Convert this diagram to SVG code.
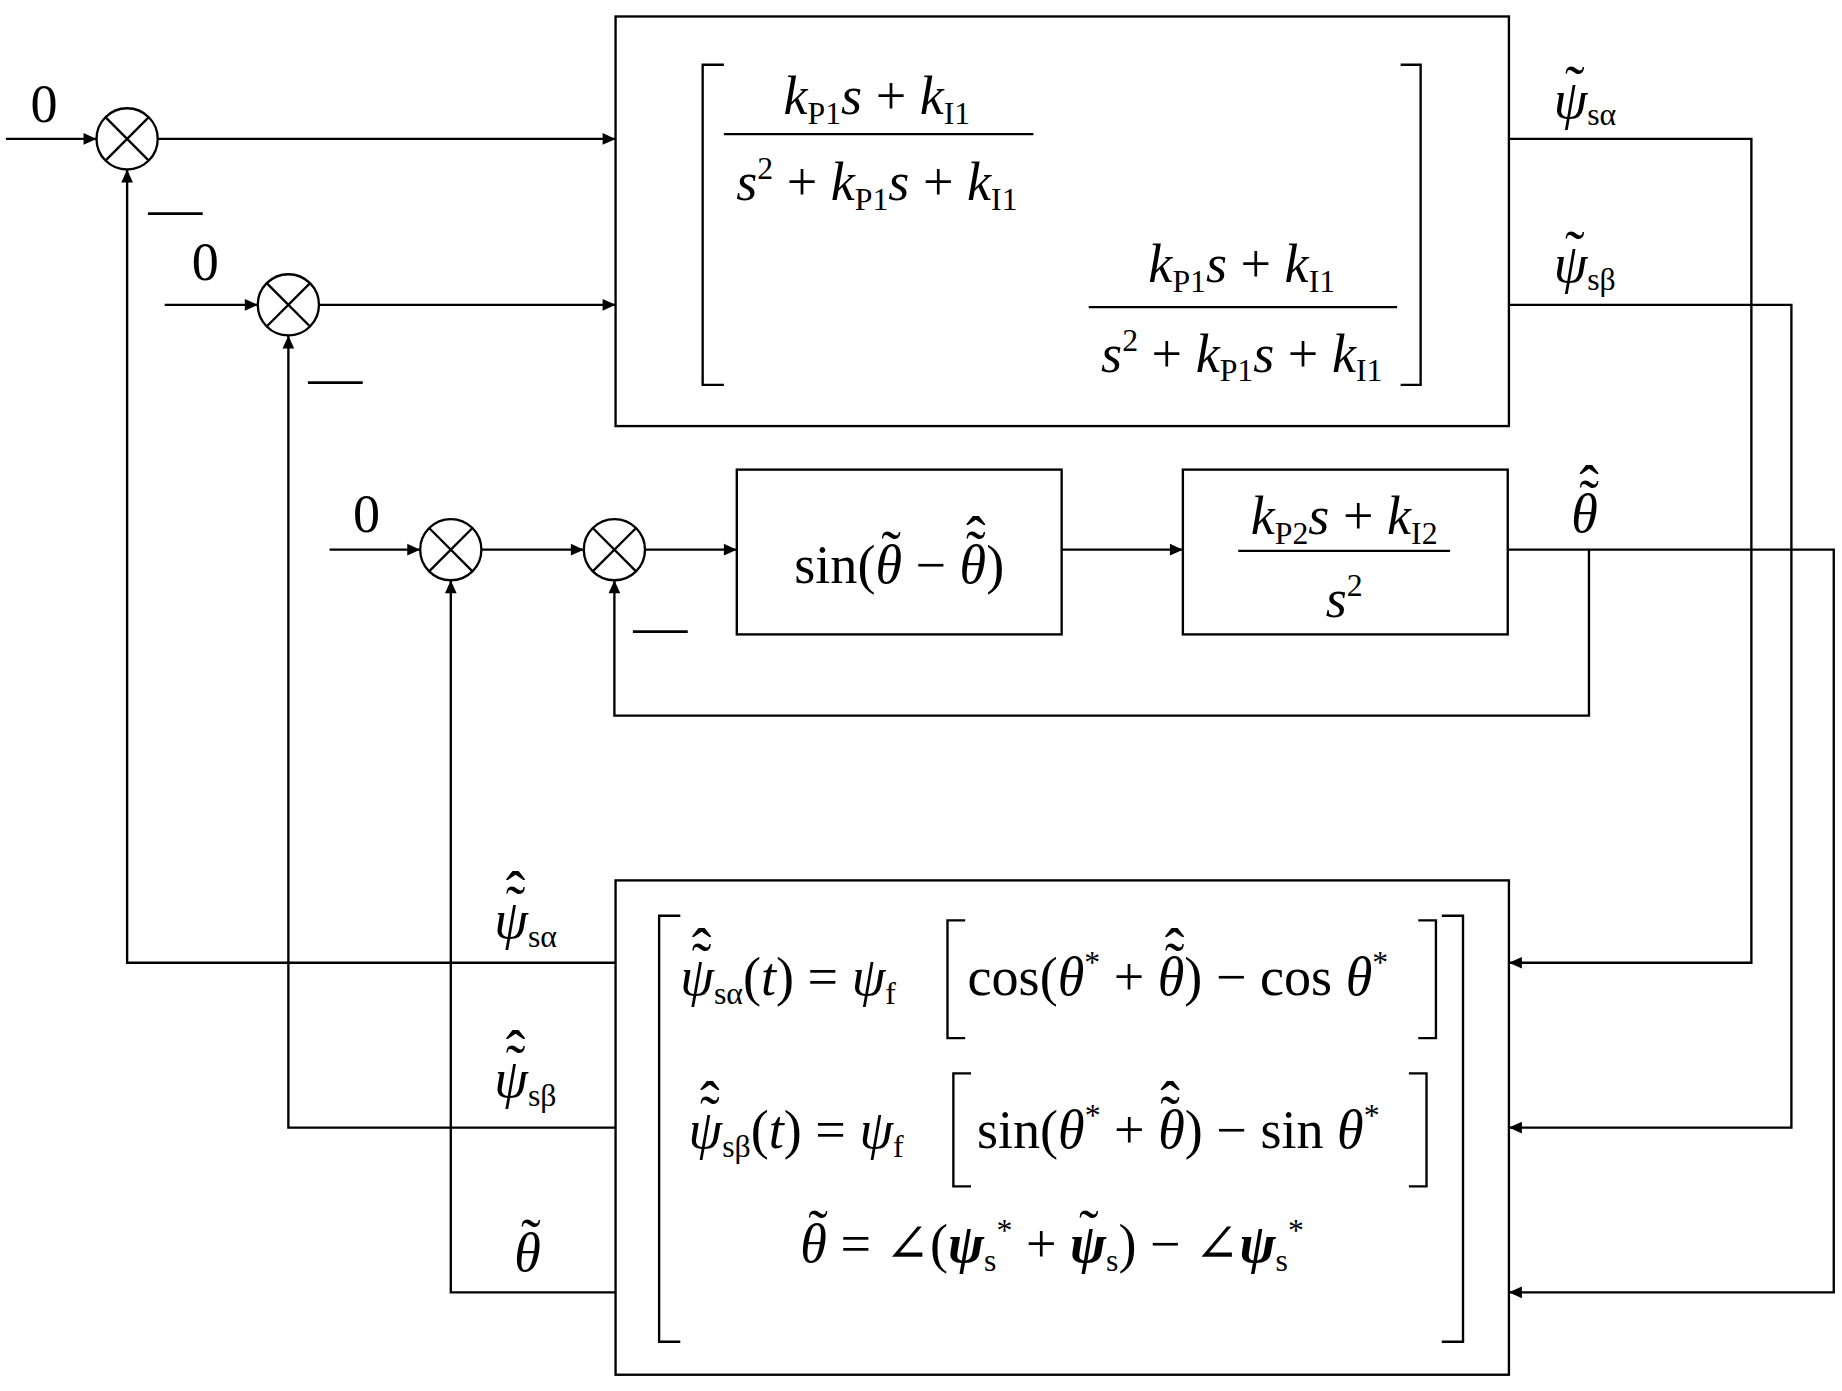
<svg xmlns="http://www.w3.org/2000/svg" width="1842" height="1391" viewBox="0 0 1842 1391">
<style>
.l{fill:none;stroke:#000;stroke-width:2}
.t{font-family:"Liberation Serif","Times New Roman","DejaVu Serif",serif;font-size:46px;fill:#000}
.i{font-style:italic}
.s{font-size:27px}
.ac{font-family:"Liberation Serif","DejaVu Serif",serif;font-size:50px;text-anchor:middle;fill:#000}
</style>
<defs>
<marker id="a" viewBox="0 0 10 10" refX="10" refY="5" markerWidth="22" markerHeight="11" markerUnits="userSpaceOnUse" orient="auto"><path d="M0,0.5L10,5L0,9.5z" fill="#000"/></marker>
<g id="sj"><circle r="26" fill="#fff" stroke="#000" stroke-width="2"/><path d="M-18,-18L18,18M18,-18L-18,18" stroke="#000" stroke-width="2"/></g>
</defs>
<rect width="1842" height="1391" fill="#fff"/>
<g transform="scale(1.177)">
<g id="connectors" class="l">
<path d="M5,118H82" marker-end="url(#a)"/>
<path d="M134,118H523" marker-end="url(#a)"/>
<path d="M140,259H219" marker-end="url(#a)"/>
<path d="M271,259H523" marker-end="url(#a)"/>
<path d="M280,467H357" marker-end="url(#a)"/>
<path d="M409,467H496" marker-end="url(#a)"/>
<path d="M548,467H626" marker-end="url(#a)"/>
<path d="M902,467H1005" marker-end="url(#a)"/>
<path d="M1282,118H1488V818H1282" marker-end="url(#a)"/>
<path d="M1282,259H1522V958H1282" marker-end="url(#a)"/>
<path d="M1282,467H1558V1098H1282" marker-end="url(#a)"/>
<path d="M1350,467V608H522V493" marker-end="url(#a)"/>
<path d="M523,818H108V144" marker-end="url(#a)"/>
<path d="M523,958H245V285" marker-end="url(#a)"/>
<path d="M523,1098H383V493" marker-end="url(#a)"/>
</g>
<g id="sum1"><use href="#sj" x="108" y="118"/><text class="t" x="26" y="104">0</text><text class="t" x="126" y="192">—</text></g>
<g id="sum2"><use href="#sj" x="245" y="259"/><text class="t" x="163" y="238">0</text><text class="t" x="262" y="336">—</text></g>
<g id="sum3"><use href="#sj" x="383" y="467"/><text class="t" x="300" y="452">0</text></g>
<g id="sum4"><use href="#sj" x="522" y="467"/><text class="t" x="538" y="547">—</text></g>
<g id="pi">
<rect class="l" x="523" y="14" width="759" height="348"/>
<path class="l" d="M615,55H597V327H615M1190,55H1207V327H1190"/>
<text class="t" x="745" y="97" text-anchor="middle"><tspan class="i">k</tspan><tspan class="s" dy="8">P1</tspan><tspan class="i" dy="-8">s</tspan> + <tspan class="i">k</tspan><tspan class="s" dy="8">I1</tspan></text>
<path class="l" d="M615,114H878"/>
<text class="t" x="745" y="170" text-anchor="middle"><tspan class="i">s</tspan><tspan class="s" dy="-18">2</tspan><tspan dy="18"> + </tspan><tspan class="i">k</tspan><tspan class="s" dy="8">P1</tspan><tspan class="i" dy="-8">s</tspan> + <tspan class="i">k</tspan><tspan class="s" dy="8">I1</tspan></text>
<text class="t" x="1055" y="240" text-anchor="middle"><tspan class="i">k</tspan><tspan class="s" dy="8">P1</tspan><tspan class="i" dy="-8">s</tspan> + <tspan class="i">k</tspan><tspan class="s" dy="8">I1</tspan></text>
<path class="l" d="M925,261H1187"/>
<text class="t" x="1055" y="316" text-anchor="middle"><tspan class="i">s</tspan><tspan class="s" dy="-18">2</tspan><tspan dy="18"> + </tspan><tspan class="i">k</tspan><tspan class="s" dy="8">P1</tspan><tspan class="i" dy="-8">s</tspan> + <tspan class="i">k</tspan><tspan class="s" dy="8">I1</tspan></text>
<text class="t" x="1320" y="100"><tspan class="i">ψ</tspan><tspan class="s" dy="6">sα</tspan></text>
<text class="ac" x="1338" y="90">˜</text>
<text class="t" x="1320" y="240"><tspan class="i">ψ</tspan><tspan class="s" dy="6">sβ</tspan></text>
<text class="ac" x="1338" y="230">˜</text>
</g>
<g id="sin">
<rect class="l" x="626" y="399" width="276" height="140"/>
<text class="t" x="764" y="495" text-anchor="middle">sin(<tspan class="i">θ</tspan> − <tspan class="i">θ</tspan>)</text>
<text class="ac" x="757" y="485">˜</text>
<text class="ac" x="829" y="485">˜</text>
<text class="ac" x="829" y="473">ˆ</text>
</g>
<g id="pi2">
<rect class="l" x="1005" y="399" width="276" height="140"/>
<text class="t" x="1142" y="454" text-anchor="middle"><tspan class="i">k</tspan><tspan class="s" dy="8">P2</tspan><tspan class="i" dy="-8">s</tspan> + <tspan class="i">k</tspan><tspan class="s" dy="8">I2</tspan></text>
<path class="l" d="M1052,468H1232"/>
<text class="t" x="1142" y="524" text-anchor="middle"><tspan class="i">s</tspan><tspan class="s" dy="-18">2</tspan></text>
<text class="t i" x="1335" y="452">θ</text>
<text class="ac" x="1350" y="442">˜</text>
<text class="ac" x="1350" y="430">ˆ</text>
</g>
<g id="est">
<rect class="l" x="523" y="748" width="759" height="420"/>
<path class="l" d="M578,778H560V1140H578M1225,778H1243V1140H1225"/>
<path class="l" d="M820,782H805V882H820M1205,782H1220V882H1205"/>
<path class="l" d="M825,912H810V1008H825M1197,912H1212V1008H1197"/>
<text class="t" x="578" y="845"><tspan class="i">ψ</tspan><tspan class="s" dy="8">sα</tspan><tspan dy="-8">(</tspan><tspan class="i">t</tspan>) = <tspan class="i">ψ</tspan><tspan class="s" dy="8">f</tspan></text>
<text class="ac" x="596" y="835">˜</text><text class="ac" x="596" y="823">ˆ</text>
<text class="t" x="822" y="845">cos(<tspan class="i">θ</tspan><tspan class="s" dy="-18">*</tspan><tspan dy="18"> + </tspan><tspan class="i">θ</tspan>) − cos <tspan class="i">θ</tspan><tspan class="s" dy="-18">*</tspan></text>
<text class="ac" x="998" y="835">˜</text><text class="ac" x="998" y="823">ˆ</text>
<text class="t" x="585" y="975"><tspan class="i">ψ</tspan><tspan class="s" dy="8">sβ</tspan><tspan dy="-8">(</tspan><tspan class="i">t</tspan>) = <tspan class="i">ψ</tspan><tspan class="s" dy="8">f</tspan></text>
<text class="ac" x="603" y="965">˜</text><text class="ac" x="603" y="953">ˆ</text>
<text class="t" x="830" y="975">sin(<tspan class="i">θ</tspan><tspan class="s" dy="-18">*</tspan><tspan dy="18"> + </tspan><tspan class="i">θ</tspan>) − sin <tspan class="i">θ</tspan><tspan class="s" dy="-18">*</tspan></text>
<text class="ac" x="994" y="965">˜</text><text class="ac" x="994" y="953">ˆ</text>
<text class="t" x="680" y="1072"><tspan class="i">θ</tspan> = ∠(<tspan class="i" font-weight="bold">ψ</tspan><tspan class="s" dy="8">s</tspan><tspan class="s" dy="-26">*</tspan><tspan dy="18"> + </tspan><tspan class="i" font-weight="bold">ψ</tspan><tspan class="s" dy="8">s</tspan><tspan dy="-8">) − ∠</tspan><tspan class="i" font-weight="bold">ψ</tspan><tspan class="s" dy="8">s</tspan><tspan class="s" dy="-26">*</tspan></text>
<text class="ac" x="695" y="1062">˜</text>
<text class="ac" x="925" y="1062">˜</text>
<text class="t" x="420" y="797"><tspan class="i">ψ</tspan><tspan class="s" dy="8">sα</tspan></text>
<text class="ac" x="438" y="787">˜</text><text class="ac" x="438" y="775">ˆ</text>
<text class="t" x="420" y="932"><tspan class="i">ψ</tspan><tspan class="s" dy="8">sβ</tspan></text>
<text class="ac" x="438" y="922">˜</text><text class="ac" x="438" y="910">ˆ</text>
<text class="t i" x="437" y="1080">θ</text>
<text class="ac" x="451" y="1070">˜</text>
</g>
</g>
</svg>
